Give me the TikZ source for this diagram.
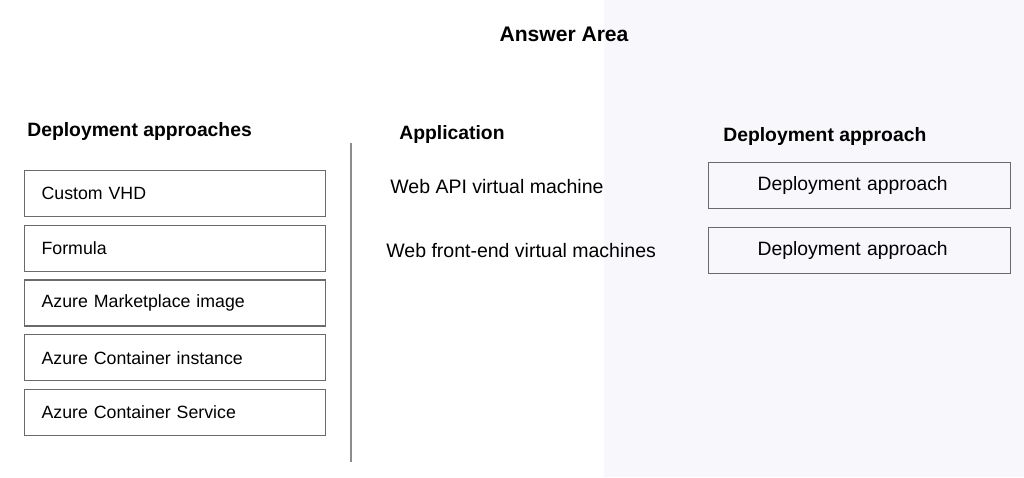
\documentclass[tikz,border=0pt]{standalone}
\usepackage{fontspec}
\setmainfont{Liberation Sans}
\usetikzlibrary{positioning}
\definecolor{AnswerBg}{HTML}{F8F8FC}
\definecolor{BoxLine}{HTML}{6A6A6A}
\definecolor{Divider}{HTML}{8C8C8C}

\begin{document}
\begin{tikzpicture}[
    x=0.02cm, y=-0.02cm,
    choice/.style={
        draw=BoxLine, line width=0.7pt, minimum width=6.02cm, minimum height=0.92cm,
        text width=5.34cm, inner xsep=0.34cm, align=left,
        font=\fontsize{10.1}{12}\selectfont
    },
    slot/.style={
        draw=BoxLine, line width=0.7pt, minimum width=6.04cm, minimum height=0.92cm,
        text width=4.08cm, inner xsep=0.98cm, align=left,
        font=\fontsize{11}{13}\selectfont
    },
    head/.style={anchor=west, inner sep=0pt, font=\fontsize{11}{13}\selectfont\bfseries},
    app/.style={anchor=west, inner sep=0pt, font=\fontsize{11.1}{13}\selectfont},
    node distance=0.15cm
]
\useasboundingbox (0,0) rectangle (1024,477);

% background of the answer side
\fill[AnswerBg] (604,0) rectangle (1024,477);

\node[inner sep=0pt, font=\fontsize{12}{14}\selectfont\bfseries] (answer) at (564,34) {Answer Area};

% =============================================
% LEFT: list of deployment approaches
% =============================================
\node[head] (approaches) at (27,131) {Deployment approaches};

\node[choice, anchor=north west] (vhd) at (24,170) {Custom VHD};
\node[choice, below=of vhd] (formula) {Formula};
\node[choice, below=of formula] (market) {Azure Marketplace image};
\node[choice, below=of market] (aci) {Azure Container instance};
\node[choice, below=of aci] (acs) {Azure Container Service};

% divider
\coordinate (divtop) at (351,143);
\coordinate (divbot) at (351,462);
\draw[Divider, line width=1pt] (divtop) -- (divbot);

% =============================================
% CENTER: applications
% =============================================
\node[head] (application) at (399,134) {Application};
\node[app] (webapi) at (390,187) {Web API virtual machine};
\node[app] (webfront) at (386,251) {Web front-end virtual machines};

% =============================================
% RIGHT: answer slots
% =============================================
\node[head] (approach) at (723,136) {Deployment approach};
\node[slot, anchor=north west] (slotapi) at (708,162) {Deployment approach};
\node[slot, below=0.36cm of slotapi] (slotfront) {Deployment approach};

\end{tikzpicture}
\end{document}
